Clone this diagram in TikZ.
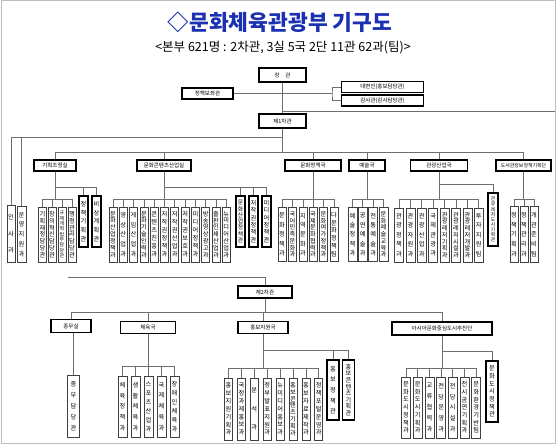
\documentclass[tikz,border=0pt]{standalone}
\usepackage{fontspec}
\setmainfont{Noto Sans CJK KR}
\makeatletter
\newcount\vsn
\newdimen\vsd
\newdimen\vsf
\newcommand\vstk[2]{%
 \vsn=0 \@tfor\vs@c:=#2\do{\advance\vsn by 1 }%
 \vsd=\dimexpr(#1pt-7pt)/\vsn\relax
 \vsf=\dimexpr 92\vsd/100\relax
 \ifdim\vsf>6.2pt \vsf=6.2pt\fi
 \fontsize{\the\vsf}{\the\vsd}\selectfont
 \vbox{\baselineskip=\vsd\lineskip=0pt\lineskiplimit=-100pt
 \@tfor\vs@c:=#2\do{\hbox to 0pt{\hss\vs@c\hss}}}}
\makeatother
\newcommand\vnode[7]{\node[#1, minimum width=#5pt, minimum height=#6pt] (#2) at (#3,#4) {\vstk{#6}{#7}};}
\definecolor{titleblue}{RGB}{28,48,178}
\definecolor{linec}{RGB}{110,110,110}
\definecolor{framec}{RGB}{190,190,190}
\tikzset{
 conn/.style={draw=linec, line width=0.8pt},
 hbox/.style={draw=black, line width=1.1pt, fill=white, inner sep=0pt, font=\fontsize{5.5}{6}\selectfont},
 topbox/.style={draw=black, line width=1.8pt, fill=white, inner sep=0pt, font=\fontsize{5.5}{6}\selectfont},
 vthin/.style={draw=black!75, line width=0.7pt, fill=white, inner sep=0pt},
 vbold/.style={draw=black, line width=1.6pt, fill=white, inner sep=0pt},
}
\begin{document}
\begin{tikzpicture}[x=1pt,y=-1pt]
\useasboundingbox (0,0) rectangle (560,446);
\draw[framec, line width=1pt] (1,1) rectangle (555.5,443.5);
\node[font=\fontsize{21.5}{22}\selectfont\bfseries, text=titleblue, inner sep=0pt] (title) at (280,22) {◇문화체육관광부 기구도};
\node[font=\fontsize{12.5}{13}\selectfont, inner sep=0pt] (sub) at (283,48) {<본부 621명 : 2차관, 3실 5국 2단 11관 62과(팀)>};

% top
\node[topbox, minimum width=47pt, minimum height=14pt] (jg) at (282.5,75) {장\quad 관};
\node[hbox, minimum width=51pt, minimum height=11pt] (jcb) at (207.5,93.5) {정책보좌관};
\node[hbox, minimum width=82pt, minimum height=11pt] (dbi) at (382.5,87) {대변인(홍보담당관)};
\node[hbox, minimum width=82pt, minimum height=11pt] (gsg) at (382.5,100.5) {감사관(감사담당관)};
\node[topbox, minimum width=47pt, minimum height=14pt] (ch1) at (282.5,121) {제1차관};
\coordinate (brk) at (332,93.5);
\coordinate (rt) at (555,111);
\draw[conn] (jg.south) -- (ch1.north);
\draw[conn] (jcb.east) -- (brk);
\draw[conn] (dbi.west) -| (brk) |- (gsg.west);
\draw[conn] (jg.south |- rt) -- (rt);

% level 1 heads
\node[hbox, minimum width=42pt, minimum height=11pt] (gj) at (55,165.5) {기획조정실};
\node[hbox, minimum width=54pt, minimum height=11pt] (mc) at (164,165.5) {문화콘텐츠산업실};
\node[hbox, minimum width=56pt, minimum height=11pt] (mj) at (313,165.5) {문화정책국};
\node[hbox, minimum width=36pt, minimum height=11pt] (ys) at (367,165.5) {예술국};
\node[hbox, minimum width=57pt, minimum height=11pt] (gg) at (439,165.5) {관광산업국};
\node[hbox, minimum width=55pt, minimum height=11pt, font=\fontsize{4.9}{5}\selectfont] (ds) at (523.5,165.5) {도서관정보정책기획단};

\vnode{vthin}{is}{11}{234}{8}{57}{인사과}
\vnode{vthin}{uy}{21.5}{234.5}{9}{56}{운영지원과}

\vnode{vthin}{gj1}{42.5}{234.5}{8}{55}{기획재정담당관}
\vnode{vthin}{gj2}{52}{234.5}{8}{55}{창의혁신담당관}
\vnode{vthin}{gj3}{62}{234.5}{8}{55}{규제개혁법무담당관}
\vnode{vthin}{gj4}{72}{234.5}{8}{55}{행정관리담당관}
\vnode{vbold}{gjb1}{83.5}{221.5}{9}{51}{정책기획관}
\vnode{vbold}{gjb2}{96.5}{221.5}{9}{51}{비상계획관}

\vnode{vthin}{mc1}{113}{234.5}{8}{55}{문화산업정책과}
\vnode{vthin}{mc2}{123.3}{234.5}{8}{55}{영상산업과}
\vnode{vthin}{mc3}{133.6}{234.5}{8}{55}{게임산업과}
\vnode{vthin}{mc4}{143.9}{234.5}{8}{55}{문화기술인력과}
\vnode{vthin}{mc5}{154.2}{234.5}{8}{55}{콘텐츠진흥과}
\vnode{vthin}{mc6}{164.5}{234.5}{8}{55}{저작권정책과}
\vnode{vthin}{mc7}{174.8}{234.5}{8}{55}{저작권산업과}
\vnode{vthin}{mc8}{185.1}{234.5}{8}{55}{저작권보호과}
\vnode{vthin}{mc9}{195.4}{234.5}{8}{55}{미디어정책과}
\vnode{vthin}{mc10}{205.7}{234.5}{8}{55}{방송영상광고과}
\vnode{vthin}{mc11}{216}{234.5}{8}{55}{출판인쇄산업과}
\vnode{vthin}{mc12}{226.3}{234.5}{8}{55}{뉴미디어산업과}
\vnode{vbold}{mcb1}{240.5}{221.5}{9}{51}{문화산업정책관}
\vnode{vbold}{mcb2}{253.5}{221.5}{9}{51}{저작권정책관}
\vnode{vbold}{mcb3}{266.5}{221.5}{9}{51}{미디어정책관}

\vnode{vthin}{mj1}{282}{234.5}{8}{54}{문화정책과}
\vnode{vthin}{mj2}{292.5}{234.5}{8}{54}{국어민족문화과}
\vnode{vthin}{mj3}{303}{234.5}{8}{54}{지역문화과}
\vnode{vthin}{mj4}{313}{234.5}{8}{54}{국제문화협력과}
\vnode{vthin}{mj5}{323.5}{234.5}{8}{54}{문화여가정책과}
\vnode{vthin}{mj6}{334}{234.5}{8}{54}{다문화정책팀}

\vnode{vthin}{ys1}{352.5}{234.5}{9}{54}{예술정책과}
\vnode{vthin}{ys2}{362.8}{234.5}{9}{54}{공연예술과}
\vnode{vthin}{ys3}{373.1}{234.5}{9}{54}{전통예술과}
\vnode{vthin}{ys4}{383.4}{234.5}{9}{54}{문화예술교육과}

\vnode{vthin}{gg1}{399}{235}{9}{54}{관광정책과}
\vnode{vthin}{gg2}{410.4}{235}{9}{54}{관광자원과}
\vnode{vthin}{gg3}{421.8}{235}{9}{54}{관광산업과}
\vnode{vthin}{gg4}{433.2}{235}{9}{54}{국제관광과}
\vnode{vthin}{gg5}{444.6}{235}{9}{54}{관광레저기획과}
\vnode{vthin}{gg6}{456}{235}{9}{54}{관광레저시설과}
\vnode{vthin}{gg7}{467.4}{235}{9}{54}{관광레저개발과}
\vnode{vthin}{gg8}{478.8}{235}{9}{54}{투자지원팀}
\vnode{vbold}{ggb1}{493}{219.5}{10}{53}{관광레저도시기획관}

\vnode{vthin}{ds1}{514}{234.5}{8}{56}{정책기획과}
\vnode{vthin}{ds2}{524}{234.5}{8}{56}{정책관리과}
\vnode{vthin}{ds3}{534}{234.5}{8}{56}{개관준비팀}

% level 1 connectors
\coordinate (y137) at (0,137);
\coordinate (y152) at (0,152);
\draw[conn] (ch1.south) -- (ch1.south |- y152);
\draw[conn] (is.north |- y137) -- (ch1.south |- y137);
\foreach \n in {is,uy} \draw[conn] (\n.north) -- (\n.north |- y137);
\draw[conn] (gj.north |- y152) -- (ds.north |- y152);
\foreach \n in {gj,mc,mj,ys,gg,ds} \draw[conn] (\n.north) -- (\n.north |- y152);

\coordinate (b187) at (0,187);
\coordinate (b184) at (0,184);
\coordinate (t199) at (0,199);
% 기획조정실
\draw[conn] (gj.south) -- (gj.south |- t199);
\draw[conn] (gj.south |- b187) -- (gjb2.north |- b187);
\foreach \n in {gjb1,gjb2} \draw[conn] (\n.north) -- (\n.north |- b187);
\draw[conn] (gj1.north |- t199) -- (gj4.north |- t199);
\foreach \n in {gj1,gj2,gj3,gj4} \draw[conn] (\n.north) -- (\n.north |- t199);
% 문화콘텐츠산업실
\draw[conn] (mc.south) -- (mc.south |- t199);
\draw[conn] (mc.south |- b187) -- (mcb3.north |- b187);
\foreach \n in {mcb1,mcb2,mcb3} \draw[conn] (\n.north) -- (\n.north |- b187);
\draw[conn] (mc1.north |- t199) -- (mc12.north |- t199);
\foreach \n in {mc1,mc2,mc3,mc4,mc5,mc6,mc7,mc8,mc9,mc10,mc11,mc12} \draw[conn] (\n.north) -- (\n.north |- t199);
% 문화정책국
\draw[conn] (mj.south) -- (mj.south |- t199);
\draw[conn] (mj1.north |- t199) -- (mj6.north |- t199);
\foreach \n in {mj1,mj2,mj3,mj4,mj5,mj6} \draw[conn] (\n.north) -- (\n.north |- t199);
% 예술국
\draw[conn] (ys.south) -- (ys.south |- t199);
\draw[conn] (ys1.north |- t199) -- (ys4.north |- t199);
\foreach \n in {ys1,ys2,ys3,ys4} \draw[conn] (\n.north) -- (\n.north |- t199);
% 관광산업국
\draw[conn] (gg.south) -- (gg.south |- t199);
\draw[conn] (gg.south |- b184) -| (ggb1.north);
\draw[conn] (gg1.north |- t199) -- (gg8.north |- t199);
\foreach \n in {gg1,gg2,gg3,gg4,gg5,gg6,gg7,gg8} \draw[conn] (\n.north) -- (\n.north |- t199);
% 도서관
\draw[conn] (ds.south) -- (ds.south |- t199);
\draw[conn] (ds1.north |- t199) -- (ds3.north |- t199);
\foreach \n in {ds1,ds2,ds3} \draw[conn] (\n.north) -- (\n.north |- t199);

% second vice minister
\node[topbox, minimum width=54pt, minimum height=12pt] (ch2) at (265,292) {제2차관};
\coordinate (l2) at (68,277);
\draw[conn] (l2) -| (ch2.north);

\node[hbox, minimum width=40pt, minimum height=13pt] (jm) at (71,326) {종무실};
\node[hbox, minimum width=55pt, minimum height=12pt] (cy) at (148,327.5) {체육국};
\node[hbox, minimum width=50pt, minimum height=12pt] (hb) at (263,327.5) {홍보지원국};
\node[hbox, minimum width=100pt, minimum height=13pt] (as) at (442,328.5) {아시아문화중심도시추진단};

\coordinate (y312) at (0,312);
\draw[conn] (ch2.south) -- (ch2.south |- y312);
\draw[conn] (jm.north |- y312) -- (as.north |- y312);
\foreach \n in {jm,cy,hb,as} \draw[conn] (\n.north) -- (\n.north |- y312);

\vnode{vthin}{jm1}{73.5}{406}{12}{62}{종무담당관}
\draw[conn] (jm.south -| jm1.north) -- (jm1.north);

\vnode{vthin}{cy1}{122.5}{406.5}{9}{61}{체육정책과}
\vnode{vthin}{cy2}{135.5}{406.5}{9}{61}{생활체육과}
\vnode{vthin}{cy3}{148.5}{406.5}{9}{61}{스포츠산업과}
\vnode{vthin}{cy4}{161.5}{406.5}{9}{61}{국제체육과}
\vnode{vthin}{cy5}{174.5}{406.5}{9}{61}{장애인체육과}
\coordinate (c366) at (0,366);
\draw[conn] (cy.south) -- (cy.south |- c366);
\draw[conn] (cy1.north |- c366) -- (cy5.north |- c366);
\foreach \n in {cy1,cy2,cy3,cy4,cy5} \draw[conn] (\n.north) -- (\n.north |- c366);

\vnode{vthin}{hb1}{228.5}{409}{8}{62}{홍보지원기획과}
\vnode{vthin}{hb2}{241.4}{409}{8}{62}{국정과제홍보과}
\vnode{vthin}{hb3}{254.3}{409}{8}{62}{분석과}
\vnode{vthin}{hb4}{267.2}{409}{8}{62}{정부발표지원과}
\vnode{vthin}{hb5}{280.1}{409}{8}{62}{뉴미디어홍보과}
\vnode{vthin}{hb6}{293}{409}{8}{62}{홍보콘텐츠기획과}
\vnode{vthin}{hb7}{305.9}{409}{8}{62}{홍보자료제작과}
\vnode{vthin}{hb8}{318.8}{409}{8}{62}{정책포털운영과}
\vnode{vbold}{hbb1}{333}{390}{12}{60}{홍보정책관}
\vnode{vbold}{hbb2}{348.5}{390}{12}{60}{홍보콘텐츠기획관}
\coordinate (h350) at (0,350);
\coordinate (h368) at (0,368);
\draw[conn] (hb.south) -- (hb.south |- h368);
\draw[conn] (hb.south |- h350) -- (hbb2.north |- h350);
\foreach \n in {hbb1,hbb2} \draw[conn] (\n.north) -- (\n.north |- h350);
\draw[conn] (hb1.north |- h368) -- (hb8.north |- h368);
\foreach \n in {hb1,hb2,hb3,hb4,hb5,hb6,hb7,hb8} \draw[conn] (\n.north) -- (\n.north |- h368);

\vnode{vthin}{as1}{406}{407.5}{9}{61}{문화도시정책과}
\vnode{vthin}{as2}{417.7}{407.5}{9}{61}{문화도시기획과}
\vnode{vthin}{as3}{429.4}{407.5}{9}{61}{교류협력과}
\vnode{vthin}{as4}{441.1}{407.5}{9}{61}{전당운영과}
\vnode{vthin}{as5}{452.8}{407.5}{9}{61}{전당시설과}
\vnode{vthin}{as6}{464.5}{407.5}{9}{61}{전시공연기획과}
\vnode{vthin}{as7}{476.2}{407.5}{9}{61}{문화환경기반팀}
\vnode{vbold}{asb1}{492}{391.5}{12}{61}{문화도시정책관}
\coordinate (a351) at (0,351);
\draw[conn] (as.south) -- (as.south |- h368);
\draw[conn] (as.south |- a351) -| (asb1.north);
\draw[conn] (as1.north |- h368) -- (as7.north |- h368);
\foreach \n in {as1,as2,as3,as4,as5,as6,as7} \draw[conn] (\n.north) -- (\n.north |- h368);
\end{tikzpicture}
\end{document}
